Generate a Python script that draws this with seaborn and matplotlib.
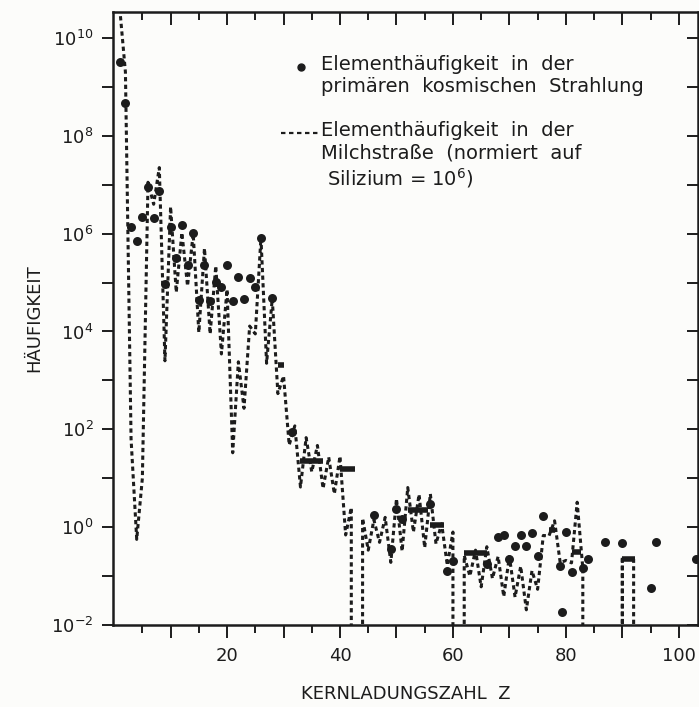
import numpy as np
import matplotlib
matplotlib.use("Agg")
import matplotlib.pyplot as plt
import seaborn as sns

# Elementhaeufigkeit in der Milchstrasse (log10, Si = 10^6), Z = 1..92
# None = Element fehlt (Tc, Pm, Po..Ac, Pa)
z_gal = list(range(1, 93))
log_gal = [10.6, 9.3, 1.8, -0.25, 1.0, 7.05, 6.6, 7.35, 3.4, 6.55,
           4.8, 6.02, 4.93, 6.0, 3.98, 5.7, 3.95, 5.34, 3.54, 4.86,
           1.52, 3.38, 2.43, 4.11, 3.95, 5.92, 3.35, 4.67, 2.73, 3.09,
           1.68, 2.07, 0.82, 1.83, 1.13, 1.67, 0.79, 1.43, 0.68, 1.45,
           -0.16, 0.40, None, 0.18, -0.47, 0.15, -0.31, 0.20, -0.72, 0.58,
           -0.49, 0.81, -0.10, 0.67, -0.42, 0.68, -0.34, 0.07, -0.78, -0.10,
           None, -0.58, -1.00, -0.47, -1.22, -0.40, -1.05, -0.60, -1.42, -0.60,
           -1.43, -0.80, -1.69, -0.89, -1.27, -0.17, -0.18, 0.13, -0.73, -0.68,
           -0.73, 0.51, -0.84, None, None, None, None, None, None, -0.6,
           None, -0.65]

# primaere kosmische Strahlung, einzelne Elemente
z_cr = [1, 2, 3, 4, 5, 6, 7, 8, 9, 10, 11, 12, 13, 14, 15, 16, 17, 18, 19, 20,
        21, 22, 23, 24, 25, 26, 28, 31.5, 46, 49, 50, 51, 56, 59, 60, 66, 68, 69,
        70, 71, 72, 73, 74, 75, 76, 79, 79.4, 80, 81, 83, 84, 87, 90, 95, 96, 103]
log_cr = [9.51, 8.66, 6.13, 5.85, 6.34, 6.95, 6.32, 6.88, 4.97, 6.14,
          5.5, 6.18, 5.36, 6.02, 4.64, 5.36, 4.62, 5.02, 4.91, 5.36,
          4.62, 5.11, 4.67, 5.09, 4.91, 5.92, 4.69, 1.95, 0.25, -0.45,
          0.37, 0.17, 0.48, -0.9, -0.7, -0.75, -0.2, -0.16,
          -0.65, -0.39, -0.16, -0.39, -0.12, -0.58, 0.22, -0.79, -1.73, -0.1,
          -0.91, -0.84, -0.65, -0.31, -0.32, -1.25, -0.31, -0.65]

# kosmische Strahlung, Ladungsgruppen (Z von, Z bis, log10)
grp_lo = [29, 33, 40, 52, 56, 62, 77, 81, 90]
grp_hi = [30, 37, 42.6, 55.6, 58.4, 66, 78, 82.7, 92.2]
grp_log = [3.32, 1.35, 1.19, 0.35, 0.04, -0.52, -0.05, -0.51, -0.65]

sns.set_theme(style="ticks")
plt.rcParams['font.family'] = ['DejaVu Sans']
ink = "#1c1c1c"
paper = "#fcfcfa"

fig = plt.figure(figsize=(6.99, 7.07), dpi=100)
fig.patch.set_facecolor(paper)
ax = fig.add_axes([113/699, 82/707, 585/699, 613/707])
ax.set_facecolor(paper)

gal = np.array([0.0 if v is None else 10.0 ** v for v in log_gal])
ax.plot(z_gal, gal, color=ink, lw=2.2, ls=(0, (1.4, 1.1)), zorder=2)

sns.scatterplot(x=z_cr, y=10.0 ** np.array(log_cr), ax=ax, color=ink,
                s=42, edgecolor=ink, linewidth=0, zorder=3, legend=False)
ax.hlines(10.0 ** np.array(grp_log), grp_lo, grp_hi, color=ink, lw=4, zorder=3)

ax.set_yscale("log")
ax.set_xlim(-0.2, 103.4)
ax.set_ylim(1e-2, 10 ** 10.53)

xmaj = list(range(10, 101, 10))
ax.set_xticks(xmaj)
ax.set_xticklabels([str(v) if v % 20 == 0 else "" for v in xmaj])
ax.set_xticks(np.arange(5, 104, 10), minor=True)
ax.set_yticks([10.0 ** k for k in range(-2, 11, 2)])
ax.set_yticklabels([r"$10^{%d}$" % k for k in range(-2, 11, 2)])
ax.set_yticks([10.0 ** k for k in range(-1, 11, 2)], minor=True)
ax.yaxis.set_minor_formatter(matplotlib.ticker.NullFormatter())

ax.tick_params(axis="both", which="both", colors=ink, labelsize=13, width=1.4,
               direction="out", top=True, right=True)
ax.tick_params(axis="x", which="major", length=9, pad=7)
ax.tick_params(axis="x", which="minor", length=6)
ax.tick_params(axis="y", which="both", length=8, pad=6)
# top and right ticks point inward
for t in ax.xaxis.get_major_ticks() + ax.xaxis.get_minor_ticks():
    t.tick2line.set_marker(matplotlib.lines.TICKDOWN)
for t in ax.yaxis.get_major_ticks() + ax.yaxis.get_minor_ticks():
    t.tick2line.set_marker(matplotlib.lines.TICKLEFT)

for sp in ax.spines.values():
    sp.set_color(ink)
    sp.set_linewidth(1.8)

ax.set_xlabel("KERNLADUNGSZAHL  Z", fontsize=13, color=ink, labelpad=14)
ax.set_ylabel("HÄUFIGKEIT", fontsize=13, color=ink, labelpad=6)

# legend
tf = ax.transAxes
ax.plot([0.321], [0.911], transform=tf, marker="o", ms=5, color=ink, clip_on=False)
ax.plot([0.288, 0.35], [0.803, 0.803], transform=tf, color=ink, lw=1.6,
        ls=(0, (2, 1.6)), clip_on=False)
ax.text(0.355, 0.93, "Elementhäufigkeit  in  der\nprimären  kosmischen  Strahlung",
        transform=tf, fontsize=14, color=ink, va="top", linespacing=1.2)
ax.text(0.355, 0.822, "Elementhäufigkeit  in  der\nMilchstraße  (normiert  auf\n Silizium = 10$^6$)",
        transform=tf, fontsize=14, color=ink, va="top", linespacing=1.2)

fig.savefig("out.png", dpi=100, facecolor=fig.get_facecolor())
